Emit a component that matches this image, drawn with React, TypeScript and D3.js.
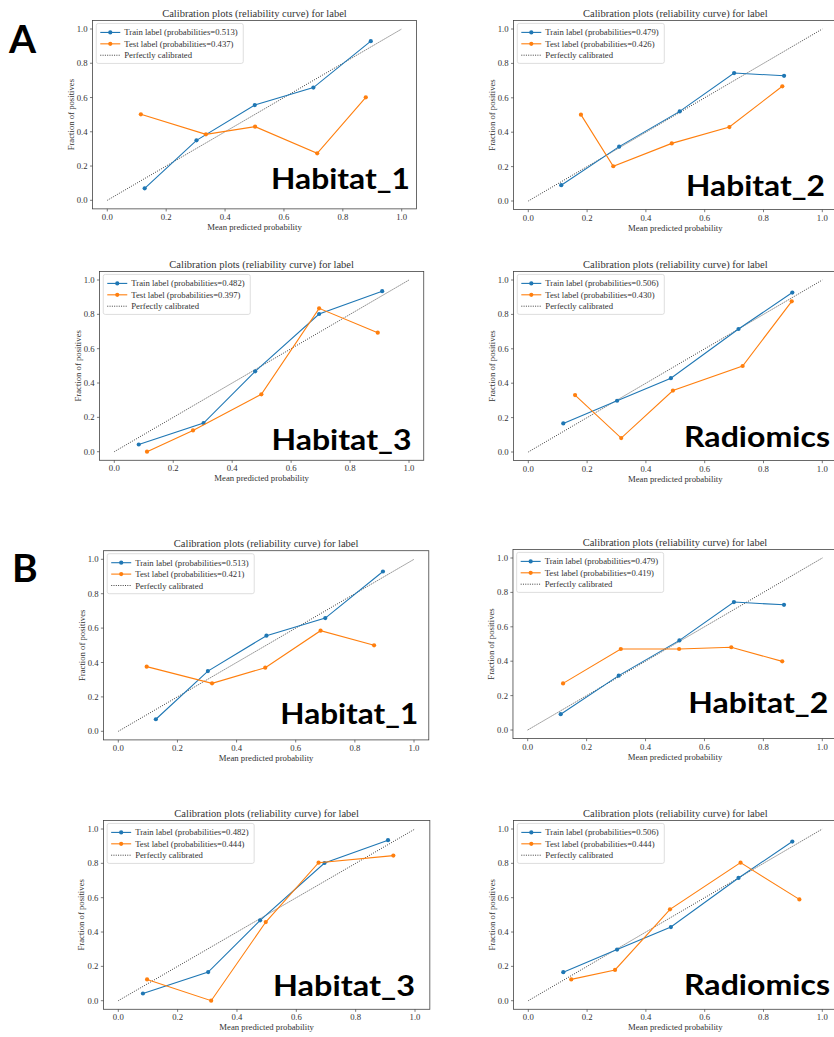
import React from "react";
import * as d3 from "d3";

// ---------- data ----------
const models = ["Habitat_1", "Habitat_2", "Habitat_3", "Radiomics"];
const groupLabels = ["A", "B"];
const trainProb = ["0.513", "0.479", "0.482", "0.506"];
const testProbA = ["0.437", "0.426", "0.397", "0.430"];
const testProbB = ["0.421", "0.419", "0.444", "0.444"];
const axisTicks = [0, 0.2, 0.4, 0.6, 0.8, 1.0];

const trainHabitat1 = [[0.127, 0.07], [0.303, 0.35], [0.501, 0.556], [0.7, 0.658], [0.895, 0.929]];
const trainHabitat2 = [[0.112, 0.092], [0.309, 0.316], [0.515, 0.521], [0.7, 0.744], [0.87, 0.728]];
const trainHabitat3 = [[0.083, 0.042], [0.303, 0.167], [0.478, 0.468], [0.695, 0.802], [0.909, 0.935]];
const trainRadiomics = [[0.119, 0.166], [0.302, 0.298], [0.485, 0.429], [0.715, 0.715], [0.898, 0.927]];

const testAHabitat1 = [[0.114, 0.502], [0.335, 0.385], [0.502, 0.43], [0.713, 0.274], [0.878, 0.601]];
const testAHabitat2 = [[0.179, 0.502], [0.289, 0.202], [0.488, 0.335], [0.684, 0.43], [0.864, 0.667]];
const testAHabitat3 = [[0.111, 0.0], [0.267, 0.124], [0.499, 0.334], [0.695, 0.835], [0.894, 0.693]];
const testARadiomics = [[0.159, 0.331], [0.316, 0.081], [0.492, 0.357], [0.729, 0.5], [0.896, 0.876]];

const testBHabitat1 = [[0.096, 0.376], [0.317, 0.279], [0.497, 0.37], [0.684, 0.585], [0.865, 0.5]];
const testBHabitat2 = [[0.12, 0.271], [0.316, 0.471], [0.514, 0.471], [0.691, 0.481], [0.864, 0.399]];
const testBHabitat3 = [[0.097, 0.124], [0.313, 0.0], [0.497, 0.458], [0.675, 0.804], [0.927, 0.845]];
const testBRadiomics = [[0.146, 0.124], [0.295, 0.179], [0.482, 0.532], [0.722, 0.804], [0.922, 0.59]];

const trainSeries = [trainHabitat1, trainHabitat2, trainHabitat3, trainRadiomics];
const testSeriesA = [testAHabitat1, testAHabitat2, testAHabitat3, testARadiomics];
const testSeriesB = [testBHabitat1, testBHabitat2, testBHabitat3, testBRadiomics];

// ---------- layout (pixel positions of data 0 and 1 on each panel) ----------
const frames = [
  { x0: 107.3, x1: 401.7, y0: 200.3, y1: 29, lx: 410, ly: 188.5, lw: 139 },
  { x0: 528.3, x1: 822.3, y0: 201, y1: 29, lx: 825, ly: 196, lw: 139 },
  { x0: 114.3, x1: 409, y0: 451.7, y1: 280, lx: 411.5, ly: 450, lw: 140 },
  { x0: 528.3, x1: 822.3, y0: 452, y1: 280, lx: 830, ly: 446.7, lw: 146 },
  { x0: 118.3, x1: 414, y0: 731.3, y1: 559.3, lx: 418.3, ly: 724, lw: 138 },
  { x0: 527.7, x1: 822.3, y0: 730, y1: 558, lx: 828.3, ly: 713.3, lw: 140 },
  { x0: 118.3, x1: 415, y0: 1000.7, y1: 829, lx: 415, ly: 996, lw: 142 },
  { x0: 528.3, x1: 822.3, y0: 1000.7, y1: 829, lx: 830, ly: 995, lw: 146 },
];
const letterPos = [
  { x: 9, y: 53.3 },
  { x: 12, y: 581.7 },
];

const BLUE = "#1f77b4";
const ORANGE = "#ff7f0e";
const SERIF = "'Liberation Serif', 'Times New Roman', serif";
const SANS = "Lato, 'Open Sans', sans-serif";
const SPINE = "#444";
const TXT = "#333";

function Panel({ idx }: { idx: number }) {
  const f = frames[idx];
  const g = Math.floor(idx / 4);
  const m = idx % 4;
  const train = trainSeries[m];
  const test = (g === 0 ? testSeriesA : testSeriesB)[m];
  const testProb = (g === 0 ? testProbA : testProbB)[m];

  const x = d3.scaleLinear().domain([0, 1]).range([f.x0, f.x1]);
  const y = d3.scaleLinear().domain([0, 1]).range([f.y0, f.y1]);
  const left = x(-0.05), right = x(1.05), top = y(1.05), bottom = y(-0.05);
  const line = d3.line<number[]>().x((d) => x(d[0])).y((d) => y(d[1]));
  const fs = 8.7;

  const lgX = left + 3.7;
  const lgY = top + 3;
  const rows = [lgY + 9, lgY + 20.4, lgY + 31.8];

  return (
    <g>
      {/* title */}
      <text x={(left + right) / 2} y={top - 3.6} textAnchor="middle" fontFamily={SERIF} fontSize={10.5} fill={TXT}>
        Calibration plots (reliability curve) for label
      </text>
      {/* perfectly calibrated */}
      <path d={line([[0, 0], [1, 1]]) || ""} stroke="#111" strokeWidth={0.8} strokeDasharray="1 1.3" fill="none" />
      {/* train */}
      <path d={line(train) || ""} stroke={BLUE} strokeWidth={1.1} fill="none" />
      {train.map((d, i) => (
        <circle key={"tr" + i} cx={x(d[0])} cy={y(d[1])} r={2.1} fill={BLUE} />
      ))}
      {/* test */}
      <path d={line(test) || ""} stroke={ORANGE} strokeWidth={1.1} fill="none" />
      {test.map((d, i) => (
        <circle key={"te" + i} cx={x(d[0])} cy={y(d[1])} r={2.1} fill={ORANGE} />
      ))}
      {/* frame */}
      <rect x={left} y={top} width={right - left} height={bottom - top} fill="none" stroke={SPINE} strokeWidth={0.8} />
      {/* x ticks */}
      {axisTicks.map((t) => (
        <g key={"xt" + t}>
          <line x1={x(t)} x2={x(t)} y1={bottom} y2={bottom + 2.6} stroke={SPINE} strokeWidth={0.7} />
          <text x={x(t)} y={bottom + 11} textAnchor="middle" fontFamily={SERIF} fontSize={fs} fill={TXT}>
            {d3.format(".1f")(t)}
          </text>
        </g>
      ))}
      {/* y ticks */}
      {axisTicks.map((t) => (
        <g key={"yt" + t}>
          <line x1={left - 2.6} x2={left} y1={y(t)} y2={y(t)} stroke={SPINE} strokeWidth={0.7} />
          <text x={left - 5} y={y(t) + 3} textAnchor="end" fontFamily={SERIF} fontSize={fs} fill={TXT}>
            {d3.format(".1f")(t)}
          </text>
        </g>
      ))}
      {/* axis labels */}
      <text x={(left + right) / 2} y={bottom + 21} textAnchor="middle" fontFamily={SERIF} fontSize={fs} fill={TXT}>
        Mean predicted probability
      </text>
      <text
        transform={`translate(${left - 19},${(top + bottom) / 2}) rotate(-90)`}
        textAnchor="middle"
        fontFamily={SERIF}
        fontSize={fs}
        fill={TXT}
      >
        Fraction of positives
      </text>
      {/* legend */}
      <rect x={lgX} y={lgY} width={147} height={40} rx={2} fill="white" fillOpacity={0.8} stroke="#d0d0d0" strokeWidth={0.7} />
      <line x1={lgX + 4} x2={lgX + 24} y1={rows[0]} y2={rows[0]} stroke={BLUE} strokeWidth={1.1} />
      <circle cx={lgX + 14} cy={rows[0]} r={2.1} fill={BLUE} />
      <text x={lgX + 28} y={rows[0] + 3} fontFamily={SERIF} fontSize={fs} fill={TXT}>
        {`Train label (probabilities=${trainProb[m]})`}
      </text>
      <line x1={lgX + 4} x2={lgX + 24} y1={rows[1]} y2={rows[1]} stroke={ORANGE} strokeWidth={1.1} />
      <circle cx={lgX + 14} cy={rows[1]} r={2.1} fill={ORANGE} />
      <text x={lgX + 28} y={rows[1] + 3} fontFamily={SERIF} fontSize={fs} fill={TXT}>
        {`Test label (probabilities=${testProb})`}
      </text>
      <line x1={lgX + 4} x2={lgX + 24} y1={rows[2]} y2={rows[2]} stroke="#111" strokeWidth={0.8} strokeDasharray="1 1.3" />
      <text x={lgX + 28} y={rows[2] + 3} fontFamily={SERIF} fontSize={fs} fill={TXT}>
        Perfectly calibrated
      </text>
      {/* big model label */}
      <text
        x={f.lx - f.lw}
        y={f.ly}
        fontFamily={SANS}
        fontWeight={700}
        fontSize={28}
        fill="#000"
        textLength={f.lw}
        lengthAdjust="spacingAndGlyphs"
      >
        {models[m]}
      </text>
    </g>
  );
}

export default function App() {
  return (
    <svg
      width={834}
      height={1037}
      viewBox="0 0 834 1037"
      style={{ position: "absolute", left: 0, top: 0, background: "#fff" }}
    >
      <rect x={0} y={0} width={834} height={1037} fill="#fff" />
      {frames.map((_, i) => (
        <Panel key={i} idx={i} />
      ))}
      {groupLabels.map((l, i) => (
        <text key={l} x={letterPos[i].x} y={letterPos[i].y} fontFamily={SANS} fontWeight={700} fontSize={39} fill="#000">
          {l}
        </text>
      ))}
    </svg>
  );
}
